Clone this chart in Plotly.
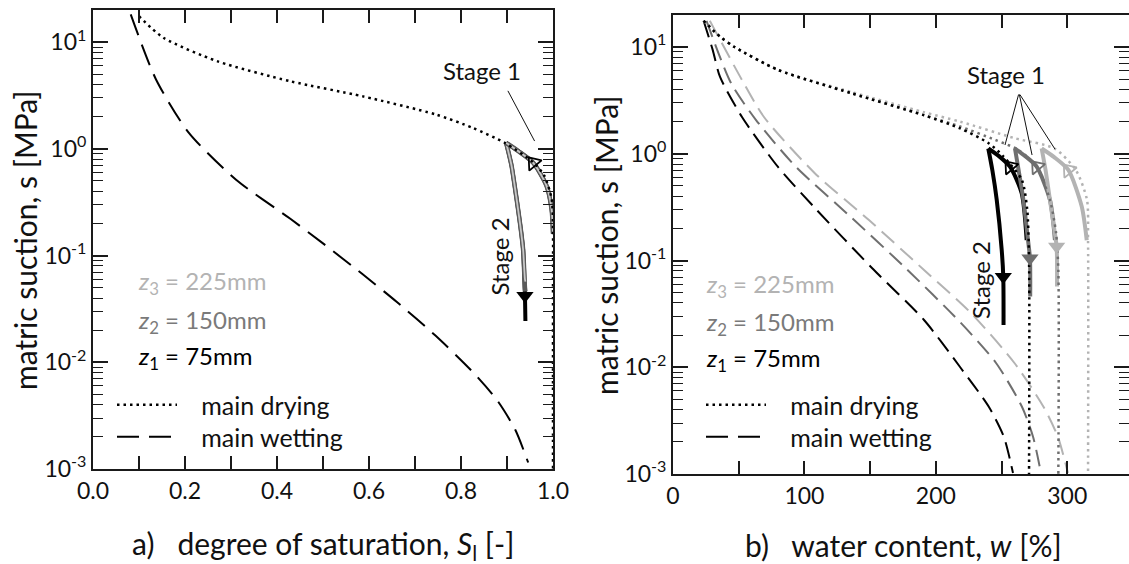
import plotly.graph_objects as go

FONT = "Lato"
W, H = 1129, 564
C1, C2, C3 = "#000000", "#6f6f6f", "#b3b3b3"

# ---------------- panel a) degree of saturation ----------------
a_dry_S = [0.100, 0.153, 0.271, 0.429, 0.587, 0.745, 0.824, 0.895, 0.958, 0.981, 0.997, 1.0, 1.0, 1.0]
a_dry_s = [17.5, 11.0, 6.6, 4.3, 3.1, 2.1, 1.58, 1.14, 0.74, 0.56, 0.34, 0.17, 0.05, 0.001]
a_wet_S = [0.082, 0.137, 0.208, 0.311, 0.429, 0.500, 0.587, 0.660, 0.745, 0.824, 0.879, 0.918, 0.946]
a_wet_s = [18.2, 4.47, 1.42, 0.513, 0.221, 0.130, 0.0664, 0.0369, 0.0177, 0.00824, 0.00438, 0.00233, 0.00115]
a_st1_S = [1.0, 0.997, 0.986, 0.957, 0.925, 0.898]
a_st1_s = [0.16, 0.27, 0.45, 0.74, 0.95, 1.14]
a_st2_S = [0.898, 0.904, 0.910, 0.921, 0.929, 0.935, 0.939, 0.940]
a_st2_s_z1 = [1.14, 0.9, 0.69, 0.336, 0.19, 0.114, 0.042, 0.0244]
a_st2_s_z2 = [1.14, 0.9, 0.69, 0.336, 0.19, 0.114, 0.05, 0.046]
a_st2_s_z3 = [1.14, 0.9, 0.69, 0.336, 0.19, 0.114, 0.06, 0.057]
a_open_S, a_open_s = [0.957], [0.74]
a_fill_S, a_fill_s = [0.939], [0.042]

# ---------------- panel b) water content ----------------
b_dry_w_z1 = [23.3, 35.8, 46.8, 80.0, 135.4, 190.7, 218.4, 240.4, 251.5, 265.4, 269.5, 270.9, 270.9]
b_dry_s_z1 = [17.6, 12.5, 10.0, 6.1, 3.7, 2.3, 1.73, 1.25, 0.94, 0.57, 0.30, 0.10, 0.001]
b_dry_w_z2 = [23.3, 35.8, 46.8, 80.0, 135.4, 190.7, 218.4, 245.0, 262.0, 276.7, 286.8, 291.5, 293.2, 293.2]
b_dry_s_z2 = [17.6, 12.5, 10.0, 6.1, 3.7, 2.3, 1.8, 1.35, 1.1, 0.757, 0.37, 0.18, 0.08, 0.001]
b_dry_w_z3 = [23.3, 35.8, 46.8, 80.0, 135.4, 190.7, 218.4, 259.8, 290.3, 306.6, 315.0, 315.8, 315.8]
b_dry_s_z3 = [17.6, 12.5, 10.0, 6.1, 3.8, 2.45, 2.0, 1.4, 1.12, 0.70, 0.37, 0.15, 0.001]

b_wet_w_z1 = [23.3, 30.2, 35.8, 52.5, 79.9, 107.3, 151.4, 191.0, 218.4, 240.4, 251.8, 258.7]
b_wet_s_z1 = [17.6, 9.4, 5.24, 2.21, 0.752, 0.317, 0.0851, 0.0277, 0.01005, 0.00424, 0.00222, 0.00102]
b_wet_w_z2 = [25.5, 44.1, 63.2, 93.6, 135.4, 176.9, 218.4, 245.8, 265.6, 274.0, 280.0]
b_wet_s_z2 = [17.6, 4.60, 2.07, 0.752, 0.255, 0.0851, 0.0265, 0.01096, 0.00424, 0.00222, 0.00102]
b_wet_w_z3 = [28.0, 52.5, 69.2, 107.7, 149.1, 191.0, 226.7, 259.8, 282.0, 292.9, 300.5]
b_wet_s_z3 = [17.6, 4.91, 2.21, 0.661, 0.239, 0.0815, 0.0322, 0.01096, 0.00424, 0.00222, 0.00102]

b_st1_w_z1 = [269.1, 265.3, 256.4, 248.0, 239.9]
b_st1_w_z2 = [290.6, 286.8, 276.7, 268.0, 260.2]
b_st1_w_z3 = [314.8, 311.0, 300.8, 290.0, 280.5]
b_st1_s_z1 = [0.155, 0.427, 0.757, 0.95, 1.12]
b_st1_s_z2 = [0.155, 0.37, 0.757, 0.95, 1.12]
b_st1_s_z3 = [0.155, 0.32, 0.705, 0.93, 1.12]

b_st2_w_z1 = [239.9, 243.0, 246.3, 250.1, 251.3, 251.5]
b_st2_w_z2 = [260.2, 263.0, 266.6, 270.0, 271.6, 271.8]
b_st2_w_z3 = [280.5, 283.5, 286.8, 290.0, 291.9, 292.2]
b_st2_s_z1 = [1.12, 0.70, 0.37, 0.126, 0.0705, 0.0249]
b_st2_s_z2 = [1.12, 0.70, 0.37, 0.16, 0.105, 0.046]
b_st2_s_z3 = [1.12, 0.70, 0.37, 0.20, 0.135, 0.057]

b_open_w = [256.4, 276.7, 300.8]
b_open_s = [0.757, 0.757, 0.705]
b_fill_w = [251.3, 271.6, 291.9]
b_fill_s = [0.0705, 0.105, 0.135]

# ---------------- ticks ----------------
y_tickvals = [0.001, 0.01, 0.1, 1, 10]
y_ticktext = ["10<sup>-3</sup>", "10<sup>-2</sup>", "10<sup>-1</sup>", "10<sup>0</sup>", "10<sup>1</sup>"]
a_xtickvals = [0.0, 0.2, 0.4, 0.6, 0.8, 1.0]
a_xticktext = ["0.0", "0.2", "0.4", "0.6", "0.8", "1.0"]
b_xtickvals = [0, 100, 200, 300]
b_xticktext = ["0", "100", "200", "300"]
y_minor = [k * 10 ** e for e in range(-3, 2) for k in range(2, 10)]

depth_labels = ["<i>z</i><sub>3</sub> = 225mm", "<i>z</i><sub>2</sub> = 150mm", "<i>z</i><sub>1</sub> = 75mm"]
depth_colors = [C3, "#7a7a7a", C1]
legend_names = ["main drying", "main wetting"]

fig = go.Figure()

DOT_A = "2.5px,4px"
DASH_A = "22px,10px"
DASH_B = "17px,8px"
NB = "\u00a0\u00a0\u00a0"

def line(x, y, xa, ya, color, width, dash="solid", name=None, legend=None, shape="spline", sm=0.7):
    fig.add_trace(go.Scatter(x=x, y=y, xaxis=xa, yaxis=ya, mode="lines",
                             line=dict(color=color, width=width, dash=dash, shape=shape, smoothing=sm),
                             name=name or "", showlegend=bool(legend), legend=legend or "legend",
                             hoverinfo="skip"))

# panel a
line(a_wet_S, a_wet_s, "x", "y", C1, 2, DASH_A)
for ys, c, wdt in [(a_st2_s_z1, C1, 4), (a_st2_s_z2, "#5a5a5a", 4.5), (a_st2_s_z3, "#c8c8c8", 1.8)]:
    line(a_st2_S, ys, "x", "y", c, wdt)
for c, wdt in [(C1, 4), ("#5a5a5a", 4.5), ("#c8c8c8", 1.8)]:
    line(a_st1_S, a_st1_s, "x", "y", c, wdt)
line(a_dry_S, a_dry_s, "x", "y", C1, 2.5, DOT_A)
line([None], [None], "x", "y", C1, 2.5, DOT_A, NB + legend_names[0], "legend")
line([None], [None], "x", "y", C1, 2, DASH_A, NB + legend_names[1], "legend2")
fig.add_trace(go.Scatter(x=a_open_S, y=a_open_s, xaxis="x", yaxis="y", mode="markers",
                         marker=dict(symbol="triangle-left-open", size=14, angle=50, color=C1, line=dict(width=1.8, color=C1)),
                         showlegend=False, hoverinfo="skip"))
fig.add_trace(go.Scatter(x=a_fill_S, y=a_fill_s, xaxis="x", yaxis="y", mode="markers",
                         marker=dict(symbol="triangle-down", size=15, color=C1), showlegend=False, hoverinfo="skip"))

# panel b
for wx, ys, c in [(b_wet_w_z1, b_wet_s_z1, C1), (b_wet_w_z2, b_wet_s_z2, C2), (b_wet_w_z3, b_wet_s_z3, C3)]:
    line(wx, ys, "x2", "y2", c, 2, DASH_B)
for wx, ys, c in [(b_st1_w_z3, b_st1_s_z3, C3), (b_st1_w_z2, b_st1_s_z2, C2), (b_st1_w_z1, b_st1_s_z1, C1),
                  (b_st2_w_z3, b_st2_s_z3, C3), (b_st2_w_z2, b_st2_s_z2, C2), (b_st2_w_z1, b_st2_s_z1, C1)]:
    line(wx, ys, "x2", "y2", c, 4)
for wx, ys, c in [(b_dry_w_z3, b_dry_s_z3, C3), (b_dry_w_z2, b_dry_s_z2, C2), (b_dry_w_z1, b_dry_s_z1, C1)]:
    line(wx, ys, "x2", "y2", c, 2.5, DOT_A)
line([None], [None], "x2", "y2", C1, 2.5, DOT_A, NB + legend_names[0], "legend3")
line([None], [None], "x2", "y2", C1, 2, DASH_A, NB + legend_names[1], "legend4")
fig.add_trace(go.Scatter(x=b_open_w, y=b_open_s, xaxis="x2", yaxis="y2", mode="markers",
                         marker=dict(symbol="triangle-left-open", size=14, angle=50, color=[C1, C2, C3],
                                     line=dict(width=1.8, color=[C1, C2, C3])),
                         showlegend=False, hoverinfo="skip"))
fig.add_trace(go.Scatter(x=b_fill_w, y=b_fill_s, xaxis="x2", yaxis="y2", mode="markers",
                         marker=dict(symbol="triangle-down", size=15, color=[C1, C2, C3]),
                         showlegend=False, hoverinfo="skip"))
fig.add_trace(go.Scatter(x=[None], y=[None], xaxis="x2", yaxis="y3", showlegend=False, hoverinfo="skip"))

AX = dict(showgrid=False, zeroline=False, showline=True, linecolor="#1a1a1a", linewidth=2,
          ticks="inside", tickcolor="#1a1a1a", tickwidth=1.6, automargin=False,
          tickfont=dict(family=FONT, size=23, color="#111"))
ymin = dict(tickmode="array", tickvals=y_minor, ticks="inside", ticklen=10, tickwidth=1.4, tickcolor="#1a1a1a")

def leg(x, ytop):
    return dict(x=x / W, y=1 - ytop / H, xanchor="left", yanchor="top", bgcolor="rgba(0,0,0,0)",
                font=dict(family=FONT, size=25, color="#111"), itemwidth=60, borderwidth=0)

fig.update_layout(
    width=W, height=H, margin=dict(l=0, r=0, t=0, b=0),
    paper_bgcolor="white", plot_bgcolor="white",
    font=dict(family=FONT, size=23, color="#111"),
    xaxis=dict(AX, domain=[93 / W, 553 / W], range=[0, 1], anchor="y", mirror="ticks",
               tickmode="array", tickvals=a_xtickvals, ticktext=a_xticktext, ticklen=13,
               minor=dict(dtick=0.1, ticks="inside", ticklen=13, tickwidth=1.6, tickcolor="#1a1a1a")),
    yaxis=dict(AX, domain=[1 - 469 / H, 1 - 10 / H], type="log", range=[-3, 1.301], anchor="x", mirror="ticks",
               tickmode="array", tickvals=y_tickvals, ticktext=y_ticktext, ticklen=15, minor=ymin),
    xaxis2=dict(AX, domain=[673 / W, 1.0], range=[0, 346.96], anchor="y2", mirror="ticks",
                tickmode="array", tickvals=b_xtickvals, ticktext=b_xticktext, ticklen=13,
                minor=dict(dtick=50, ticks="inside", ticklen=13, tickwidth=1.6, tickcolor="#1a1a1a")),
    yaxis2=dict(AX, domain=[1 - 474 / H, 1 - 15 / H], type="log", range=[-3, 1.2998], anchor="x2",
                tickmode="array", tickvals=y_tickvals, ticktext=y_ticktext, ticklen=15, minor=ymin),
    yaxis3=dict(AX, domain=[1 - 474 / H, 1 - 15 / H], type="log", range=[-3, 1.2998], anchor="x2",
                overlaying="y2", side="right", showline=False, showticklabels=False,
                tickmode="array", tickvals=y_tickvals, ticklen=15, minor=ymin),
    legend=leg(112, 382), legend2=leg(112, 414),
    legend3=leg(701, 382), legend4=leg(701, 414),
    showlegend=True,
)

ann = []
def text(x, y, s, size=24, color="#111", xref="paper", yref="paper", xanchor="center", angle=0):
    ann.append(dict(x=x, y=y, xref=xref, yref=yref, text=s, showarrow=False, xanchor=xanchor, yanchor="middle",
                    textangle=angle, font=dict(family=FONT, size=size, color=color)))

text(323 / W, 1 - 545 / H, "a)\u00a0\u00a0\u00a0degree of saturation, <i>S</i><sub>l</sub> [-]", 30)
text(903 / W, 1 - 545 / H, "b)\u00a0\u00a0\u00a0water content, <i>w</i> [%]", 30)
text(25 / W, 1 - 241 / H, "matric suction, s [MPa]", 30, angle=-90)
text(606 / W, 1 - 246 / H, "matric suction, s [MPa]", 30, angle=-90)

a_lab_x = 0.0935
a_lab_logy = [-1.251, -1.616, -1.954]
b_lab_x = 23.3
b_lab_logy = [-1.23, -1.586, -1.932]
for s, c, ly in zip(depth_labels, depth_colors, a_lab_logy):
    text(a_lab_x, ly, s, 24, c, "x", "y", "left")
for s, c, ly in zip(depth_labels, depth_colors, b_lab_logy):
    text(b_lab_x, ly, s, 24, c, "x2", "y2", "left")

text(0.846, 0.735, "Stage 1", 24, "#111", "x", "y")
text(0.883, -1.007, "Stage 2", 24, "#111", "x", "y", angle=-90)
text(253.4, 0.738, "Stage 1", 24, "#111", "x2", "y2")
text(233.6, -1.183, "Stage 2", 24, "#111", "x2", "y2", angle=-90)

def leader(x, y, ax, ay, xref, yref):
    ann.append(dict(x=x, y=y, xref=xref, yref=yref, ax=ax, ay=ay, axref="pixel", ayref="pixel", text="",
                    showarrow=True, arrowhead=0, arrowwidth=1, arrowcolor="#111"))

leader(0.96, 0.073, -27.5, -51.7, "x", "y")
b_lead_w = [252.6, 273.2, 290.6]
b_lead_logy = [0.082, -0.012, 0.044]
b_lead_px = [1005, 1032, 1055]
b_lead_py = [145, 155, 149]
for w_, ly, px, py in zip(b_lead_w, b_lead_logy, b_lead_px, b_lead_py):
    leader(w_, ly, 1019 - px, 93 - py, "x2", "y2")

fig.update_layout(annotations=ann)
fig.write_html("out.html")
